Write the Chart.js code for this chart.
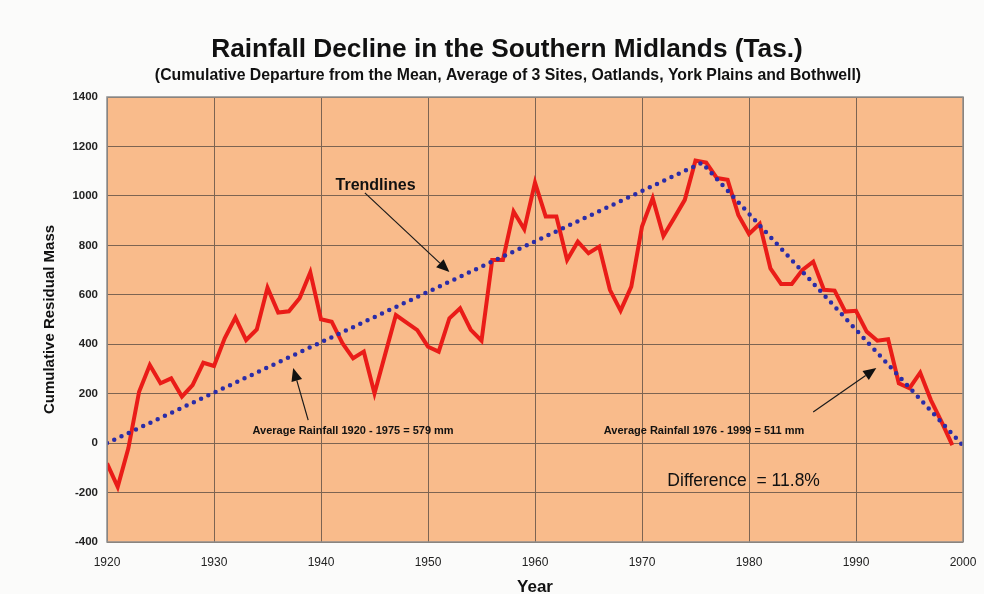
<!DOCTYPE html>
<html>
<head>
<meta charset="utf-8">
<script src="https://cdn.jsdelivr.net/npm/chart.js@4/dist/chart.umd.min.js"></script>
<style>
  html, body { margin: 0; padding: 0; background: #fbfbfa; overflow: hidden; }
  canvas { display: block; }
</style>
</head>
<body>
<canvas id="c" width="984" height="594"></canvas>
<script>
// ---- data ----
const years = [];
for (let y = 1920; y <= 1999; y++) years.push(y);
const residualMass = [
  -82, -177, -20, 208, 316, 242, 262, 188, 235, 325,
  312, 424, 508, 417, 460, 629, 528, 533, 586, 691,
  501, 491, 404, 343, 370, 201, 360, 518, 487, 457,
  390, 370, 505, 545, 458, 414, 741, 741, 937, 865,
  1054, 917, 917, 741, 815, 768, 795, 620, 536, 633,
  876, 991, 838, 910, 984, 1143, 1135, 1072, 1065, 923,
  846, 887, 707, 644, 644, 701, 734, 620, 617, 532,
  535, 451, 414, 420, 242, 222, 285, 174, 86, -8
];
const trendYears = [1920, 1975.6, 2000];
const trendValues = [0, 1134, -10];
const xTicks = [1920, 1930, 1940, 1950, 1960, 1970, 1980, 1990, 2000];
const yTicks = [-400, -200, 0, 200, 400, 600, 800, 1000, 1200, 1400];

const titleText = "Rainfall Decline in the Southern Midlands (Tas.)";
const subtitleText = "(Cumulative Departure from the Mean, Average of 3 Sites, Oatlands, York Plains and Bothwell)";

// annotations in data coordinates
const labels = [
  { text: "Trendlines", x: 1945.1, y: 1041, font: "bold 16px Arial, 'Liberation Sans', sans-serif" },
  { text: "Average Rainfall 1920 - 1975 = 579 mm", x: 1943.0, y: 49, font: "bold 11px Arial, 'Liberation Sans', sans-serif" },
  { text: "Average Rainfall 1976 - 1999 = 511 mm", x: 1975.8, y: 49, font: "bold 11px Arial, 'Liberation Sans', sans-serif" },
  { text: "Difference  = 11.8%", x: 1979.5, y: -154, font: "17.5px Arial, 'Liberation Sans', sans-serif" }
];
const arrows = [
  { from: [1944.1, 1012], to: [1952.0, 692] },
  { from: [1938.8, 93], to: [1937.4, 304] },
  { from: [1986.0, 126], to: [1991.9, 304] }
];

const mainData = years.map((y, i) => ({ x: y, y: residualMass[i] }));
const trendData = trendYears.map((y, i) => ({ x: y, y: trendValues[i] }));

const sans = "Arial, 'Liberation Sans', sans-serif";

function fitText(ctx, text, weight, targetWidth, baseSize) {
  ctx.font = weight + " " + baseSize + "px " + sans;
  const w = ctx.measureText(text).width;
  const size = baseSize * targetWidth / w;
  ctx.font = weight + " " + size.toFixed(2) + "px " + sans;
}

const decorPlugin = {
  id: 'decor',
  beforeDraw(chart) {
    const { ctx, chartArea: a } = chart;
    ctx.save();
    ctx.fillStyle = '#f9bb8b';
    ctx.fillRect(a.left, a.top, a.right - a.left, a.bottom - a.top);
    ctx.restore();
  },
  afterDatasetsDraw(chart) {
    const { ctx, chartArea: a } = chart;
    const xs = chart.scales.x, ys = chart.scales.y;
    ctx.save();
    // plot border
    ctx.strokeStyle = '#8f8f8f';
    ctx.lineWidth = 1.5;
    ctx.strokeRect(a.left, a.top, a.right - a.left, a.bottom - a.top);
    // arrows
    ctx.strokeStyle = '#1a1a1a';
    ctx.fillStyle = '#111';
    ctx.lineWidth = 1.2;
    arrows.forEach(ar => {
      const x1 = xs.getPixelForValue(ar.from[0]), y1 = ys.getPixelForValue(ar.from[1]);
      const x2 = xs.getPixelForValue(ar.to[0]), y2 = ys.getPixelForValue(ar.to[1]);
      const ang = Math.atan2(y2 - y1, x2 - x1);
      const hl = 13, hw = 5.5;
      const bx = x2 - hl * Math.cos(ang), by = y2 - hl * Math.sin(ang);
      ctx.beginPath(); ctx.moveTo(x1, y1); ctx.lineTo(bx, by); ctx.stroke();
      ctx.beginPath();
      ctx.moveTo(x2, y2);
      ctx.lineTo(bx + hw * Math.sin(ang), by - hw * Math.cos(ang));
      ctx.lineTo(bx - hw * Math.sin(ang), by + hw * Math.cos(ang));
      ctx.closePath(); ctx.fill();
    });
    // labels
    ctx.fillStyle = '#111';
    ctx.textAlign = 'center';
    ctx.textBaseline = 'middle';
    labels.forEach(l => {
      ctx.font = l.font;
      ctx.fillText(l.text, xs.getPixelForValue(l.x), ys.getPixelForValue(l.y));
    });
    // title & subtitle
    ctx.fillStyle = '#111';
    ctx.textBaseline = 'alphabetic';
    fitText(ctx, titleText, 'bold', 592, 24);
    ctx.fillText(titleText, 507, 57);
    fitText(ctx, subtitleText, 'bold', 707, 13);
    ctx.fillText(subtitleText, 508, 80);
    ctx.restore();
  }
};

new Chart(document.getElementById('c'), {
  type: 'line',
  data: {
    datasets: [
      {
        label: 'Cumulative Residual Mass',
        data: mainData,
        borderColor: '#ea1c18',
        borderWidth: 4,
        pointRadius: 0,
        tension: 0,
        borderJoinStyle: 'miter',
        order: 1
      },
      {
        label: 'Trendlines',
        data: trendData,
        borderColor: '#2a2ca8',
        borderWidth: 4.5,
        borderDash: [0, 8],
        borderCapStyle: 'round',
        pointRadius: 0,
        tension: 0,
        order: 0
      }
    ]
  },
  options: {
    responsive: false,
    animation: false,
    devicePixelRatio: 1,
    layout: { padding: { top: 97, right: 21, bottom: 0, left: 0 } },
    plugins: {
      legend: { display: false },
      tooltip: { enabled: false },
      title: { display: false }
    },
    scales: {
      x: {
        type: 'linear',
        min: 1920, max: 2000,
        afterFit(s) { s.height = 52; s.paddingLeft = 0; s.paddingRight = 0; },
        afterBuildTicks(s) { s.ticks = xTicks.map(v => ({ value: v })); },
        grid: { color: '#7d6452', lineWidth: 1, drawTicks: false },
        border: { display: false },
        ticks: {
          padding: 13,
          color: '#222',
          font: { family: sans, size: 12 },
          callback: v => String(v)
        },
        title: {
          display: true, text: 'Year', color: '#111',
          font: { family: sans, size: 17, weight: 'bold' },
          padding: { top: 0, bottom: -4 }
        }
      },
      y: {
        type: 'linear',
        min: -400, max: 1400,
        afterFit(s) { s.width = 107; s.paddingTop = 0; s.paddingBottom = 0; },
        afterBuildTicks(s) { s.ticks = yTicks.map(v => ({ value: v })); },
        grid: { color: '#7d6452', lineWidth: 1, drawTicks: false },
        border: { display: false },
        ticks: {
          padding: 9,
          color: '#222',
          font: { family: sans, size: 11.5, weight: 'bold' },
          callback: v => String(v)
        },
        title: {
          display: true, text: 'Cumulative Residual Mass', color: '#111',
          font: { family: sans, size: 15, weight: 'bold' },
          padding: { top: 41, bottom: 0 }
        }
      }
    }
  },
  plugins: [decorPlugin]
});
</script>
</body>
</html>
